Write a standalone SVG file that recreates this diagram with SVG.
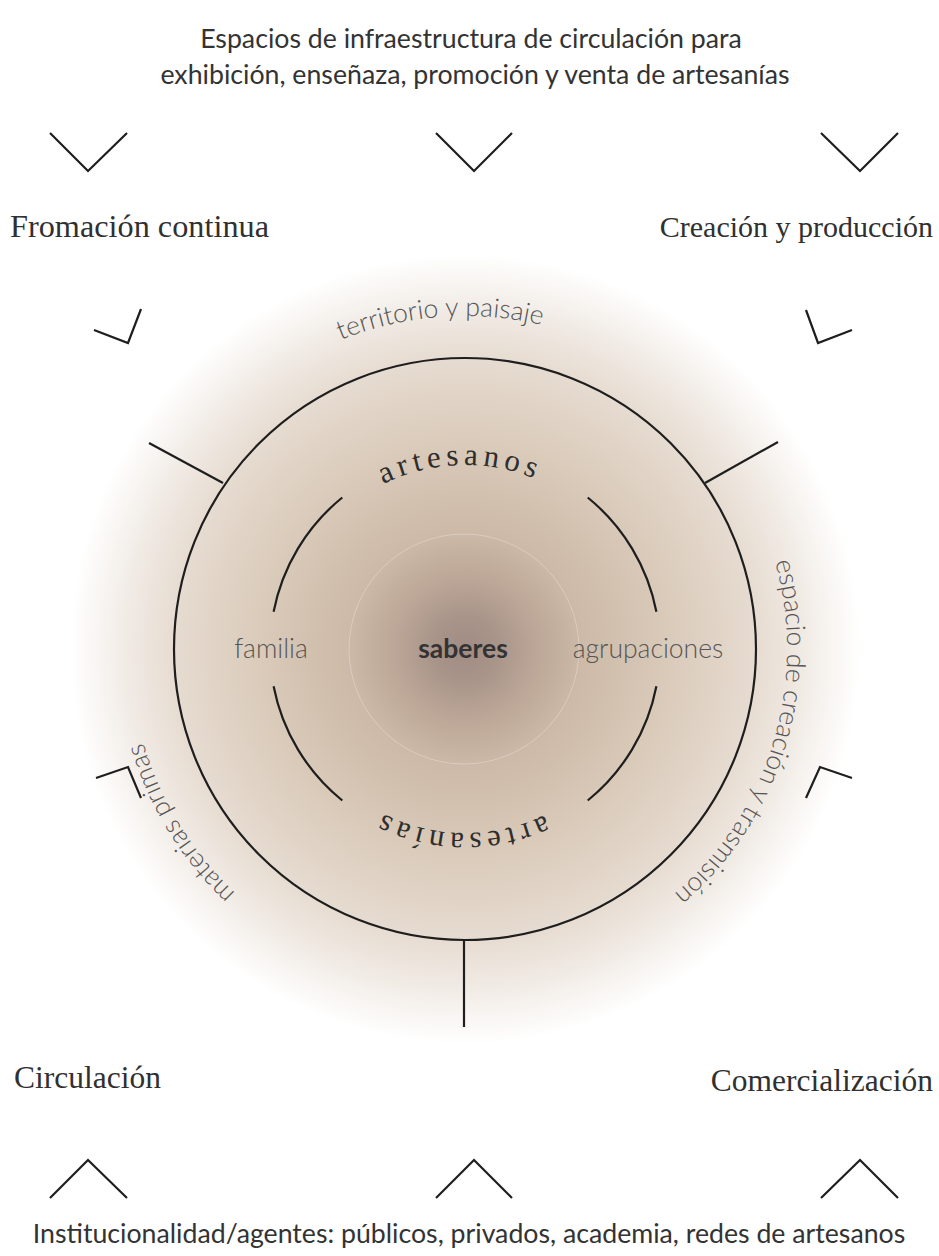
<svg xmlns="http://www.w3.org/2000/svg" width="939" height="1256" viewBox="0 0 939 1256">
  <style>
    .sans { font-family: Lato, "Noto Sans", "DejaVu Sans", sans-serif; fill: #333333; }
    .title { font-size: 26.7px; text-anchor: middle; }
    .serif { font-family: "Liberation Serif", "DejaVu Serif", serif; fill: #303030; font-size: 31.5px; }
    .serif-sm { font-size: 30px; }
    .ring { font-family: Lato, "Noto Sans", sans-serif; font-weight: 300; font-size: 26.5px; fill: #555555; text-anchor: middle; }
    .core { font-family: "Liberation Serif", "DejaVu Serif", serif; font-size: 31px; letter-spacing: 5px; fill: #2e2e2e; text-anchor: middle; }
    .mid { font-family: Lato, "Noto Sans", sans-serif; font-weight: 300; font-size: 26.5px; fill: #555555; text-anchor: middle; }
    .line { fill: none; stroke: #1e1e1e; stroke-width: 2.2; stroke-linecap: butt; stroke-linejoin: miter; }
  </style>
  <defs>
    <radialGradient id="halo" cx="465" cy="649" r="395" gradientUnits="userSpaceOnUse">
      <stop offset="0" stop-color="#a18c84"/>
      <stop offset="0.08" stop-color="#a9948a"/>
      <stop offset="0.2" stop-color="#bfaa9a"/>
      <stop offset="0.3" stop-color="#cdbaa8"/>
      <stop offset="0.5" stop-color="#d9c9b8"/>
      <stop offset="0.73" stop-color="#e6dbd0"/>
      <stop offset="0.86" stop-color="#f1ebe5"/>
      <stop offset="1" stop-color="#ffffff"/>
    </radialGradient>
    <!-- clockwise guide circles for curved labels -->
    <path id="pathCore" d="M281,649 A184,184 0 1 1 649,649 A184,184 0 1 1 281,649"/>
    <path id="pathTerritorio" d="M465,982 A333,333 0 1 1 465,316 A333,333 0 1 1 465,982"/>
    <path id="pathEspacio" d="M465,971 A322,322 0 1 1 465,327 A322,322 0 1 1 465,971"/>
    <path id="pathMaterias" d="M465,984 A335,335 0 1 1 465,314 A335,335 0 1 1 465,984"/>
  </defs>

  <rect width="939" height="1256" fill="#ffffff"/>

  <!-- halo and rings -->
  <g id="halo-disc">
    <circle cx="465" cy="649" r="395" fill="url(#halo)"/>
  </g>

  <g id="node-saberes">
    <circle cx="464" cy="649" r="115" fill="none" stroke="#ffffff" stroke-opacity="0.35" stroke-width="0.8"/>
    <text class="sans" x="463" y="658" font-size="26.5" font-weight="700" text-anchor="middle" fill="#333333">saberes</text>
  </g>

  <g id="node-artesanos">
    <path class="line" d="M273.6,611.8 A195,195 0 0 1 342.3,497.5"/>
    <path class="line" d="M587.7,497.5 A195,195 0 0 1 656.4,611.8"/>
    <path class="line" d="M656.4,686.2 A195,195 0 0 1 587.7,800.5"/>
    <path class="line" d="M342.3,800.5 A195,195 0 0 1 273.6,686.2"/>
    <text class="core"><textPath href="#pathCore" startOffset="24.6%">artesanos</textPath></text>
    <text class="core"><textPath href="#pathCore" startOffset="75.3%">artesanías</textPath></text>
  </g>

  <g id="node-familia">
    <text class="mid" x="271" y="658">familia</text>
  </g>
  <g id="node-agrupaciones">
    <text class="mid" x="648" y="658">agrupaciones</text>
  </g>

  <g id="node-entorno">
    <circle class="line" cx="465" cy="649" r="291"/>
    <text class="ring"><textPath href="#pathTerritorio" startOffset="48.8%">territorio y paisaje</textPath></text>
    <text class="ring"><textPath href="#pathEspacio" startOffset="79.7%">espacio de creación y trasmisión</textPath></text>
    <text class="ring"><textPath href="#pathMaterias" startOffset="16.25%">materias primas</textPath></text>
  </g>

  <!-- connectors -->
  <g id="connectors">
    <line class="line" x1="149" y1="443" x2="223" y2="483"/>
    <line class="line" x1="705" y1="483" x2="778" y2="442"/>
    <line class="line" x1="464" y1="940" x2="464" y2="1027"/>
    <polyline class="line" points="94,330 128,343 141,309"/>
    <polyline class="line" points="806,310 818,343 852,330"/>
    <polyline class="line" points="96,778 128,767 141,798"/>
    <polyline class="line" points="806,798 820,767 852,778"/>
    <polyline class="line" points="50,133 88,171 127,133"/>
    <polyline class="line" points="436,133 474,171 512,133"/>
    <polyline class="line" points="821,133 860,171 898,133"/>
    <polyline class="line" points="50,1198 88,1160 127,1198"/>
    <polyline class="line" points="436,1198 474,1160 512,1198"/>
    <polyline class="line" points="821,1198 860,1160 898,1198"/>
  </g>

  <g id="node-espacios">
    <text class="sans title" x="471" y="48">Espacios de infraestructura de circulación para</text>
    <text class="sans title" x="475" y="84">exhibición, enseñaza, promoción y venta de artesanías</text>
  </g>
  <g id="node-formacion">
    <text class="serif" x="10" y="237" textLength="259" lengthAdjust="spacingAndGlyphs">Fromación continua</text>
  </g>
  <g id="node-creacion">
    <text class="serif serif-sm" x="933" y="237" text-anchor="end">Creación y producción</text>
  </g>
  <g id="node-circulacion">
    <text class="serif" x="14" y="1088">Circulación</text>
  </g>
  <g id="node-comercializacion">
    <text class="serif" x="933" y="1091" text-anchor="end">Comercialización</text>
  </g>
  <g id="node-institucionalidad">
    <text class="sans title" x="469" y="1243">Institucionalidad/agentes: públicos, privados, academia, redes de artesanos</text>
  </g>
</svg>
